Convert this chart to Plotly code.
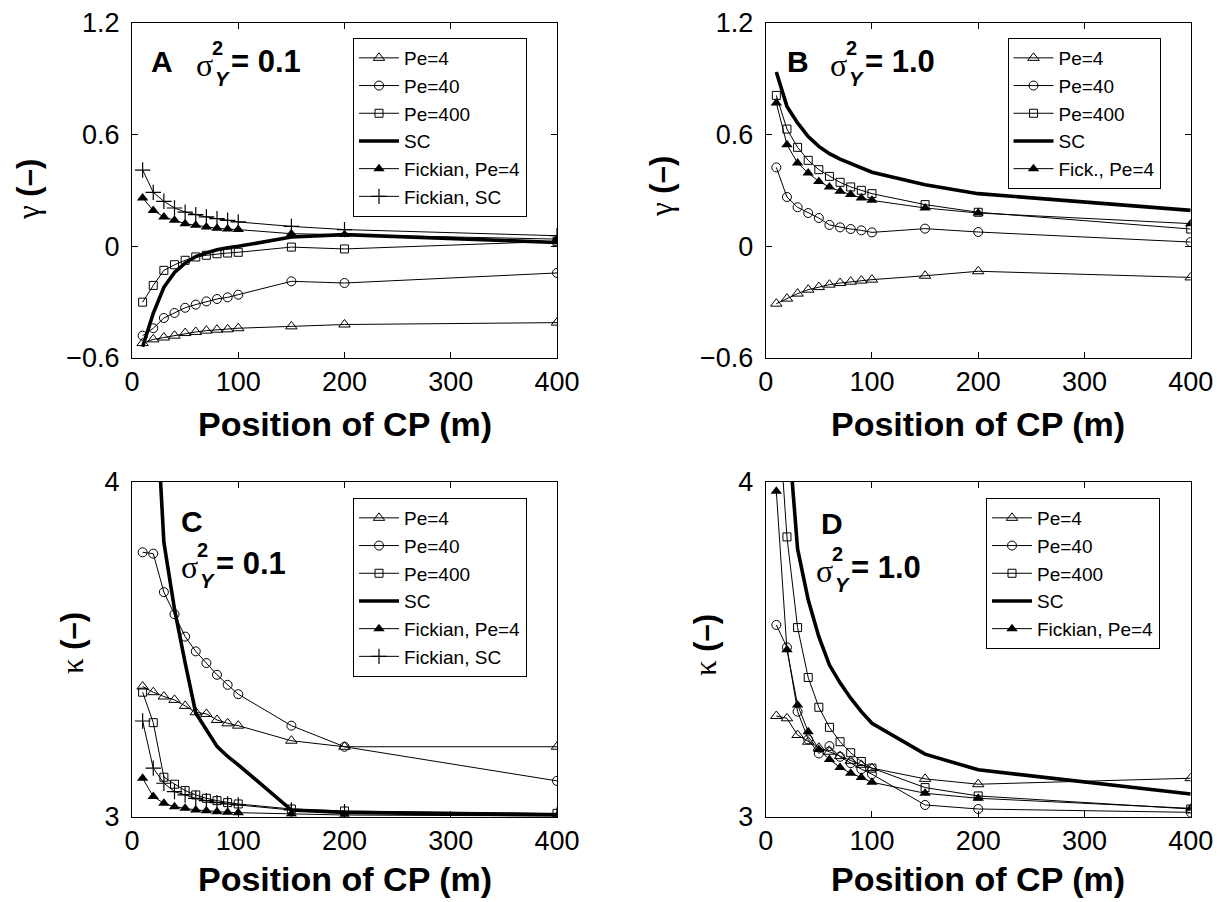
import plotly.graph_objects as go

W, H = 1220, 902

# ---------------- data ----------------
cp_pos = [10, 20, 30, 40, 50, 60, 70, 80, 90, 100, 150, 200, 400]

# Panel A: gamma, sigma^2 = 0.1
a_pe4 = [-0.52, -0.50, -0.49, -0.48, -0.466, -0.46, -0.453, -0.448, -0.446, -0.44, -0.43, -0.42, -0.41]
a_pe40 = [-0.48, -0.44, -0.385, -0.358, -0.33, -0.313, -0.296, -0.283, -0.274, -0.26, -0.188, -0.197, -0.143]
a_pe400 = [-0.30, -0.21, -0.129, -0.099, -0.075, -0.057, -0.048, -0.04, -0.036, -0.032, -0.004, -0.014, 0.027]
a_sc = [-0.54, -0.36, -0.22, -0.14, -0.09, -0.055, -0.035, -0.018, -0.008, 0.0, 0.05, 0.063, 0.021]
a_fick4 = [0.26, 0.193, 0.158, 0.14, 0.122, 0.113, 0.104, 0.097, 0.093, 0.09, 0.068, 0.063, 0.039]
a_ficksc = [0.41, 0.29, 0.242, 0.206, 0.184, 0.17, 0.158, 0.149, 0.14, 0.131, 0.107, 0.09, 0.057]

# Panel B: gamma, sigma^2 = 1.0
b_pe4 = [-0.308, -0.281, -0.254, -0.233, -0.219, -0.206, -0.197, -0.19, -0.184, -0.179, -0.158, -0.134, -0.167]
b_pe40 = [0.424, 0.265, 0.21, 0.179, 0.152, 0.115, 0.102, 0.093, 0.086, 0.075, 0.095, 0.077, 0.023]
b_pe400 = [0.811, 0.63, 0.532, 0.462, 0.412, 0.376, 0.344, 0.319, 0.301, 0.283, 0.224, 0.183, 0.093]
b_sc = [0.937, 0.752, 0.663, 0.59, 0.537, 0.498, 0.469, 0.444, 0.421, 0.398, 0.331, 0.283, 0.193]
b_fick4 = [0.77, 0.546, 0.448, 0.394, 0.349, 0.319, 0.296, 0.278, 0.26, 0.247, 0.206, 0.179, 0.122]

# Panel C: kappa, sigma^2 = 0.1
c_pe4 = [3.389, 3.372, 3.359, 3.349, 3.331, 3.312, 3.307, 3.289, 3.279, 3.272, 3.227, 3.209, 3.209]
c_pe40 = [3.79, 3.786, 3.671, 3.605, 3.538, 3.494, 3.459, 3.424, 3.394, 3.366, 3.272, 3.209, 3.107]
c_pe400 = [3.372, 3.281, 3.118, 3.097, 3.078, 3.065, 3.055, 3.048, 3.042, 3.038, 3.023, 3.017, 3.01]
c_sc = [5.5, 4.4, 3.82, 3.62, 3.46, 3.31, 3.26, 3.21, 3.18, 3.155, 3.02, 3.013, 3.005]
c_fick4 = [3.115, 3.06, 3.04, 3.03, 3.025, 3.02, 3.018, 3.015, 3.013, 3.012, 3.008, 3.005, 3.002]
c_ficksc = [3.286, 3.145, 3.1, 3.075, 3.065, 3.055, 3.048, 3.042, 3.038, 3.035, 3.02, 3.015, 3.005]

# Panel D: kappa, sigma^2 = 1.0
d_pe4 = [3.301, 3.294, 3.244, 3.224, 3.206, 3.194, 3.181, 3.167, 3.155, 3.145, 3.113, 3.097, 3.115]
d_pe40 = [3.573, 3.506, 3.314, 3.231, 3.189, 3.211, 3.179, 3.16, 3.142, 3.127, 3.035, 3.023, 3.013]
d_pe400 = [4.3, 3.836, 3.565, 3.416, 3.327, 3.267, 3.224, 3.191, 3.165, 3.145, 3.087, 3.062, 3.023]
d_sc = [5.0, 4.2, 3.80, 3.648, 3.538, 3.453, 3.40, 3.354, 3.314, 3.279, 3.187, 3.14, 3.068]
d_fick4 = [3.972, 3.499, 3.334, 3.254, 3.201, 3.171, 3.147, 3.13, 3.117, 3.103, 3.07, 3.055, 3.025]

x_ticks = [0, 100, 200, 300, 400]
gamma_ticks = [-0.6, 0, 0.6, 1.2]
gamma_ticktext = ["\u22120.6", "0", "0.6", "1.2"]
kappa_ticks = [3, 4]
kappa_ticktext = ["3", "4"]

# ---------------- layout helpers ----------------
FONT = "Liberation Sans, Arial, Helvetica, sans-serif"
SERIF = "Liberation Serif, DejaVu Serif, serif"


def px(x):
    return x / W


def py(y):
    return 1 - y / H


# plot-area pixel boxes (left, right, top, bottom)
boxes = {
    1: (132, 557, 23, 358),
    2: (765.7, 1190.7, 23, 358),
    3: (132, 557, 482, 816.7),
    4: (765.7, 1190.7, 482, 816.7),
}

fig = go.Figure()

styles = {
    "pe4": dict(mode="lines+markers", line=dict(color="black", width=1),
                marker=dict(symbol="triangle-up-open", size=10, color="black", line=dict(width=1, color="black"))),
    "pe40": dict(mode="lines+markers", line=dict(color="black", width=1),
                 marker=dict(symbol="circle-open", size=9, color="black", line=dict(width=1, color="black"))),
    "pe400": dict(mode="lines+markers", line=dict(color="black", width=1),
                  marker=dict(symbol="square-open", size=8, color="black", line=dict(width=1, color="black"))),
    "sc": dict(mode="lines", line=dict(color="black", width=3.6)),
    "fick4": dict(mode="lines+markers", line=dict(color="black", width=1),
                  marker=dict(symbol="triangle-up", size=10, color="black", line=dict(width=0))),
    "ficksc": dict(mode="lines+markers", line=dict(color="black", width=1),
                   marker=dict(symbol="cross-thin-open", size=11, color="black", line=dict(width=1.2, color="black"))),
}

panels = [
    (1, [("pe4", "Pe=4", a_pe4), ("pe40", "Pe=40", a_pe40), ("pe400", "Pe=400", a_pe400),
         ("sc", "SC", a_sc), ("fick4", "Fickian, Pe=4", a_fick4), ("ficksc", "Fickian, SC", a_ficksc)]),
    (2, [("pe4", "Pe=4", b_pe4), ("pe40", "Pe=40", b_pe40), ("pe400", "Pe=400", b_pe400),
         ("sc", "SC", b_sc), ("fick4", "Fick., Pe=4", b_fick4)]),
    (3, [("pe4", "Pe=4", c_pe4), ("pe40", "Pe=40", c_pe40), ("pe400", "Pe=400", c_pe400),
         ("sc", "SC", c_sc), ("fick4", "Fickian, Pe=4", c_fick4), ("ficksc", "Fickian, SC", c_ficksc)]),
    (4, [("pe4", "Pe=4", d_pe4), ("pe40", "Pe=40", d_pe40), ("pe400", "Pe=400", d_pe400),
         ("sc", "SC", d_sc), ("fick4", "Fickian, Pe=4", d_fick4)]),
]

for idx, series in panels:
    suffix = "" if idx == 1 else str(idx)
    for key, name, vals in series:
        fig.add_trace(go.Scatter(
            x=cp_pos, y=vals, name=name,
            xaxis="x" + suffix, yaxis="y" + suffix,
            legend="legend" + suffix,
            **styles[key]))

axis_common = dict(showline=True, linecolor="black", linewidth=1, mirror="ticks",
                   ticks="inside", ticklen=6, tickcolor="black", tickwidth=1,
                   showgrid=False, zeroline=False, automargin=False,
                   tickfont=dict(family=FONT, size=27, color="black"))

layout = dict(width=W, height=H, margin=dict(l=0, r=0, t=0, b=0, autoexpand=False),
              plot_bgcolor="white", paper_bgcolor="white", font=dict(family=FONT, color="black"))

legend_pos = {1: (440, 38), 2: (1084, 38), 3: (440, 498), 4: (1073, 498)}

for idx in range(1, 5):
    l, r, t, b = boxes[idx]
    suffix = "" if idx == 1 else str(idx)
    layout["xaxis" + suffix] = dict(domain=[px(l), px(r)], range=[0, 400], tickvals=x_ticks,
                                    anchor="y" + suffix, ticklabelstandoff=0, **axis_common)
    if idx <= 2:
        layout["yaxis" + suffix] = dict(domain=[py(b), py(t)], range=[-0.6, 1.2], tickvals=gamma_ticks,
                                        ticktext=gamma_ticktext, anchor="x" + suffix,
                                        ticklabelstandoff=6, **axis_common)
    else:
        layout["yaxis" + suffix] = dict(domain=[py(b), py(t)], range=[3, 4], tickvals=kappa_ticks,
                                        ticktext=kappa_ticktext, anchor="x" + suffix,
                                        ticklabelstandoff=6, **axis_common)
    lx, ly = legend_pos[idx]
    layout["legend" + suffix] = dict(x=px(lx), y=py(ly), xanchor="center", yanchor="top",
                                     bordercolor="black", borderwidth=1, bgcolor="white",
                                     font=dict(family=FONT, size=19, color="black"),
                                     tracegroupgap=0, itemwidth=40)

fig.update_layout(**layout)

annotations = []


def ann(text, x, y, size, xanchor="left", yanchor="middle", angle=0, family=FONT):
    annotations.append(dict(text=text, x=px(x), y=py(y), xref="paper", yref="paper",
                            xanchor=xanchor, yanchor=yanchor, showarrow=False, textangle=angle,
                            borderpad=0,
                            font=dict(family=family, size=size, color="black")))


def label(letter, lx, ly, sx, sy, value):
    ann("<b>%s</b>" % letter, lx, ly, 30)
    ann("\u03c3", sx, sy, 32, family=SERIF)
    ann("<b>2</b>", sx + 16, sy - 17, 20)
    ann("<b><i>Y</i></b>", sx + 19, sy + 14, 20)
    ann("<b>= %s</b>" % value, sx + 35, sy - 4, 31)


label("A", 150, 61, 195, 65, "0.1")
label("B", 786, 61, 829, 65, "1.0")
label("C", 180, 521, 180, 567, "0.1")
label("D", 820, 523, 815, 571, "1.0")

# axis titles
for cx, cy in [(344.5, 424), (978, 424), (344.5, 879), (978, 879)]:
    ann("<b>Position of CP (m)</b>", cx, cy, 34, xanchor="center")

ytitle = '<span style="font-family:Liberation Serif, serif">%s</span> <b>(\u2013)</b>'
ann(ytitle % "\u03b3", 28, 190, 31, xanchor="center", angle=-90)
ann(ytitle % "\u03b3", 662, 187, 31, xanchor="center", angle=-90)
ann(ytitle % "\u03ba", 72, 643, 31, xanchor="center", angle=-90)
ann(ytitle % "\u03ba", 705, 645, 31, xanchor="center", angle=-90)

fig.update_layout(annotations=annotations)

fig.write_html("out.html")
